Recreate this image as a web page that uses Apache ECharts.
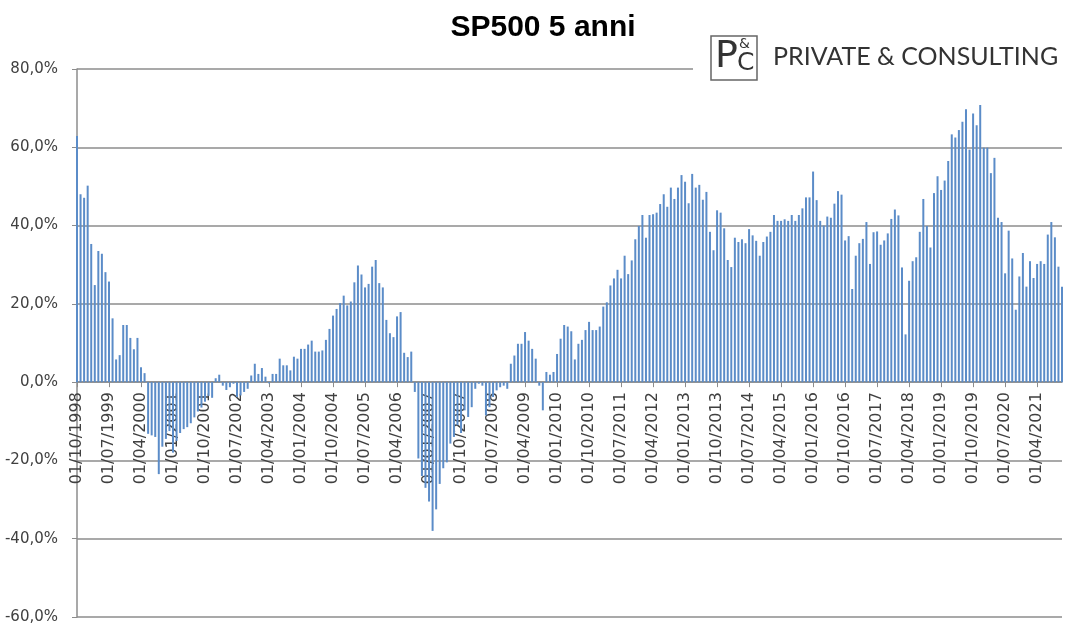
<!DOCTYPE html>
<html>
<head>
<meta charset="utf-8">
<title>SP500 5 anni</title>
<script src="https://cdn.jsdelivr.net/npm/echarts@6/dist/echarts.min.js"></script>
<style>
  html, body { margin: 0; padding: 0; background: #fff; }
  #chart { width: 1086px; height: 644px; }
</style>
</head>
<body>
<div id="chart"></div>
<script>
// rendimento a 5 anni dell'SP500, un valore al mese da 10/1998
const firstYear = 1998;
const firstMonth = 10;

const ret1998_2002 = [62.9, 48.0, 47.1, 50.2, 35.3, 24.8, 33.5, 32.8, 28.1, 25.7, 16.3, 5.8, 6.9, 14.6, 14.6, 11.3, 8.4, 11.3, 3.8, 2.3,
  -13.2, -13.6, -14.0, -23.5, -16.5, -14.5, -12.5, -18.0, -15.0, -13.0, -12.0, -11.5, -10.5, -9.0, -7.5, -6.5, -5.0, -3.5, -4.0, 1.0,
  1.9, -0.9, -2.0, -1.3, -0.4, -3.8, -3.4, -2.5, -1.7, 1.7];
const ret2003_2006 = [4.7, 2.1, 3.6, 1.4, -0.3, 2.1, 2.1, 6.0, 4.3, 4.3,
  3.0, 6.5, 6.0, 8.5, 8.5, 9.6, 10.6, 7.8, 7.8, 8.1, 10.8, 13.6, 17.0, 18.7, 20.2, 22.1, 19.6, 20.6, 25.5, 29.8,
  27.5, 24.2, 25.1, 29.5, 31.2, 25.3, 24.2, 15.9, 12.5, 11.5, 16.8, 17.9, 7.5, 6.4, 7.8];
const ret2007_2010 = [-2.5, -19.5, -24, -27, -30.5,
  -38, -32.5, -26, -22, -20.5, -15.7, -14, -11, -13, -7.2, -8.9, -6.4, -1.7, -0.4, -0.9, -8.5, -6.4, -3.8, -2.1, -1.3,
  -0.9, -1.7, 4.7, 6.8, 9.8, 9.8, 12.8, 10.6, 8.5, 6.0, -0.9, -7.2, 2.6, 1.9, 2.6, 7.2, 11.1, 14.6, 14.2, 13.0,
  5.8, 9.8, 10.8, 13.3, 15.4, 13.3, 13.3, 14.2, 19.3, 20.4];
const ret2011_2014 = [24.7, 26.5, 28.7, 26.5, 32.3, 27.6, 31.1, 36.5, 39.9, 42.7,
  36.9, 42.7, 42.9, 43.3, 45.5, 48.0, 44.8, 49.7, 46.8, 49.7, 52.9, 51.2, 45.7, 53.2, 49.7, 50.4, 46.6, 48.6, 38.4, 33.7,
  43.9, 43.3, 39.3, 31.2, 29.4, 36.9, 35.8, 36.5, 35.5, 39.1, 37.5, 36.1, 32.3, 35.8, 37.2, 38.4, 42.7, 41.2, 41.2, 41.6];
const ret2015_2018 = [41.2, 42.7, 41.2, 42.7, 44.4, 47.2, 47.2, 53.8, 46.5, 41.2, 40.0, 42.3, 42.0, 45.6, 48.8, 47.9, 36.2, 37.3, 23.8, 32.3,
  35.5, 36.6, 40.9, 30.2, 38.3, 38.5, 35.1, 36.2, 38.0, 41.7, 44.1, 42.6, 29.3, 12.2, 25.9, 30.9, 31.9, 38.4, 46.8, 39.9];
const ret2019_2021 = [34.4, 48.3, 52.6, 49.1, 51.5, 56.5, 63.3, 62.5, 64.4, 66.5, 69.7, 59.4, 68.6, 65.6, 70.8, 59.9, 59.9, 53.4, 57.3, 42.0,
  40.9, 27.8, 38.7, 31.6, 18.5, 27.0, 33.0, 24.4, 30.9, 26.6, 30.2, 30.9, 30.2, 37.7, 40.9, 37.0, 29.5, 24.4];

const values = [].concat(ret1998_2002, ret2003_2006, ret2007_2010, ret2011_2014, ret2015_2018, ret2019_2021);

// etichette 01/MM/AAAA
const months = [];
for (let i = 0; i < values.length; i++) {
  const m = (firstMonth - 1 + i) % 12 + 1;
  const y = firstYear + Math.floor((firstMonth - 1 + i) / 12);
  months.push('01/' + String(m).padStart(2, '0') + '/' + y);
}

const yMin = -60, yMax = 80;
const gridTop = 69, gridBottom = 27, chartH = 644;
// sposto l'asse x sulla linea dello zero (in v6 le etichette non seguono onZero)
const plotH = chartH - gridTop - gridBottom;
const zeroShift = plotH * (0 - yMin) / (yMax - yMin);

const chart = echarts.init(document.getElementById('chart'));

const option = {
  backgroundColor: '#fff',
  animation: false,
  title: {
    text: 'SP500 5 anni',
    left: 538,
    textAlign: 'center',
    top: 8,
    textStyle: { fontFamily: 'Liberation Sans', fontWeight: 'bold', fontSize: 30, color: '#000' }
  },
  grid: { left: 77, right: 24, top: gridTop, bottom: gridBottom, containLabel: false, outerBoundsMode: 'none' },
  xAxis: {
    type: 'category',
    data: months,
    boundaryGap: false,
    position: 'bottom',
    offset: -zeroShift,
    axisLine: { onZero: false, lineStyle: { color: '#8c8c8c', width: 1.5 } },
    axisTick: { show: true, interval: 8, length: 5, lineStyle: { color: '#8c8c8c' } },
    axisLabel: {
      interval: 8,
      rotate: 90,
      margin: 10,
      fontFamily: 'DejaVu Sans',
      fontSize: 16,
      color: '#404040'
    },
    splitLine: { show: false }
  },
  yAxis: {
    type: 'value',
    min: yMin,
    max: yMax,
    interval: 20,
    axisLine: { show: true, lineStyle: { color: '#8c8c8c', width: 1.5 } },
    axisTick: { show: true, length: 5, lineStyle: { color: '#8c8c8c' } },
    axisLabel: {
      margin: 19,
      fontFamily: 'DejaVu Sans',
      fontSize: 15,
      color: '#404040',
      formatter: function (v) { return v.toFixed(1).replace('.', ',') + '%'; }
    },
    splitLine: { lineStyle: { color: '#8c8c8c', width: 1.5 } }
  },
  series: [{
    type: 'bar',
    data: values,
    barWidth: 2,
    itemStyle: { color: '#5b8cc8' }
  }],
  graphic: [
    { type: 'rect', shape: { x: 693, y: 28, width: 390, height: 60 }, style: { fill: '#fff' }, z: 100 },
    { type: 'rect', shape: { x: 711, y: 36, width: 46, height: 44 }, style: { fill: '#fff', stroke: '#666', lineWidth: 1.5 }, z: 101 },
    { type: 'text', x: 715, y: 38, style: { text: 'P', fontFamily: 'DejaVu Sans', fontSize: 38, fill: '#333' }, z: 102 },
    { type: 'text', x: 739, y: 37, style: { text: '&', fontFamily: 'DejaVu Sans', fontSize: 14, fill: '#333' }, z: 102 },
    { type: 'text', x: 737, y: 51, style: { text: 'C', fontFamily: 'DejaVu Sans', fontSize: 25, fill: '#333' }, z: 102 },
    { type: 'text', x: 773, y: 57, style: { text: 'PRIVATE & CONSULTING', fontFamily: 'Lato', fontSize: 25, fill: '#333', verticalAlign: 'middle' }, z: 102 }
  ]
};

chart.setOption(option);
</script>
</body>
</html>
